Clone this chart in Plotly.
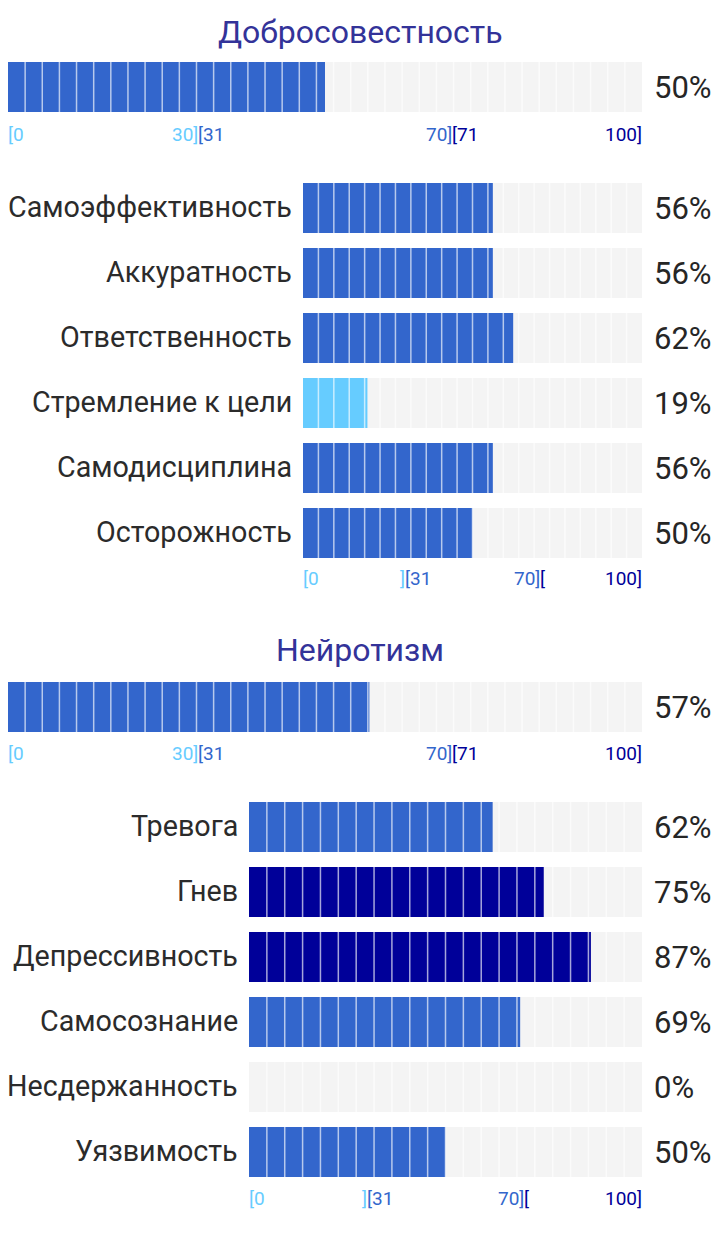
import plotly.graph_objects as go

# a pagina tem margem de 8px no body: tudo deslocado 8px
OFF = 8
W, H = 720 - OFF, 1255 - OFF

# ДАННЫЕ
titulos = ['Добросовестность', 'Нейротизм']
total = [50, 57]
escalas_1 = ['Самоэффективность', 'Аккуратность', 'Ответственность',
             'Стремление к цели', 'Самодисциплина', 'Осторожность']
valores_1 = [56, 56, 62, 19, 56, 50]
escalas_2 = ['Тревога', 'Гнев', 'Депрессивность', 'Самосознание',
             'Несдержанность', 'Уязвимость']
valores_2 = [62, 75, 87, 69, 0, 50]
ticks_total = [(0, '[0', 'left'), (30, '30]', 'right'), (30, '[31', 'left'),
               (70, '70]', 'right'), (70, '[71', 'left'), (100, '100]', 'right')]
ticks_sub = [(0, '[0', 'left'), (30, ']', 'right'), (30, '[31', 'left'),
             (70, '70]', 'right'), (70, '[', 'left'), (100, '100]', 'right')]

COR_BAIXO = '#66ccff'
COR_MEDIO = '#3366cc'
COR_ALTO = '#000099'
COR_FUNDO = '#f4f4f4'
COR_TICK = {'[0': COR_BAIXO, '30]': COR_BAIXO, ']': COR_BAIXO,
            '[31': COR_MEDIO, '70]': COR_MEDIO,
            '[71': COR_ALTO, '[': COR_ALTO, '100]': COR_ALTO}
FONTE = 'Roboto'


def cor(v):
    if v <= 30:
        return COR_BAIXO
    if v <= 70:
        return COR_MEDIO
    return COR_ALTO


def px(xpx):
    return (xpx - OFF) / W


def py(ypx):
    return 1 - (ypx - OFF) / H


fig = go.Figure()
anots = []
layout_axes = {}


def bloco(n, x0, x1, y0, y1, nomes, valores, nseg, ticks, y_tick, x_label=None):
    xa = 'x' if n == 1 else f'x{n}'
    ya = 'y' if n == 1 else f'y{n}'
    k = len(valores)
    w = 50 / 65 if k > 1 else 1.0
    lo = -w / 2
    hi = (k - 1) + w / 2
    ys = list(range(k))
    fig.add_trace(go.Bar(x=[100] * k, y=ys, orientation='h', width=w,
                         marker=dict(color=COR_FUNDO, line_width=0),
                         xaxis=xa, yaxis=ya, hoverinfo='skip', showlegend=False))
    fig.add_trace(go.Bar(x=valores, y=ys, orientation='h', width=w,
                         marker=dict(color=[cor(v) for v in valores], line_width=0),
                         xaxis=xa, yaxis=ya, hoverinfo='skip', showlegend=False))
    # separadores dos segmentos
    sx, sy = [], []
    for i in range(1, nseg):
        p = i * 100 / nseg
        sx += [p, p, None]
        sy += [lo, hi, None]
    fig.add_trace(go.Scatter(x=sx, y=sy, mode='lines',
                             line=dict(color='rgba(255,255,255,0.65)', width=1.5),
                             xaxis=xa, yaxis=ya, hoverinfo='skip', showlegend=False))
    ax_key = 'xaxis' if n == 1 else f'xaxis{n}'
    ay_key = 'yaxis' if n == 1 else f'yaxis{n}'
    layout_axes[ax_key] = dict(domain=[px(x0), px(x1)], range=[0, 100], visible=False,
                               anchor=ya, fixedrange=True)
    layout_axes[ay_key] = dict(domain=[py(y1), py(y0)], range=[hi, lo], visible=False,
                               anchor=xa, fixedrange=True)
    for i, v in enumerate(valores):
        anots.append(dict(x=px(652), xref='paper', y=i, yref=ya, text=f'{v}%',
                          xanchor='left', yanchor='middle', showarrow=False,
                          font=dict(family=FONTE, size=31, color='#262626')))
        if x_label is not None:
            anots.append(dict(x=px(x_label), xref='paper', y=i, yref=ya, text=nomes[i],
                              xanchor='right', yanchor='middle', showarrow=False,
                              yshift=1,
                              font=dict(family=FONTE, size=28.7, color='#2b2b2b')))
    for pos, txt, anc in ticks:
        anots.append(dict(x=pos, xref=xa, y=py(y_tick), yref='paper', text=txt,
                          xanchor=anc, yanchor='middle', showarrow=False,
                          xshift=-2 if anc == 'left' else 2,
                          font=dict(family=FONTE, size=19, color=COR_TICK[txt])))


# Добросовестность
anots.append(dict(x=px(360), xref='paper', y=py(32), yref='paper', text=titulos[0],
                  showarrow=False, yanchor='middle',
                  font=dict(family=FONTE, size=32, color='#333399')))
bloco(1, 8, 642, 62, 112, [titulos[0]], [total[0]], 37, ticks_total, 134)
bloco(2, 303, 642, 183, 558, escalas_1, valores_1, 22, ticks_sub, 578, x_label=294)

# Нейротизм
anots.append(dict(x=px(360), xref='paper', y=py(650), yref='paper', text=titulos[1],
                  showarrow=False, yanchor='middle',
                  font=dict(family=FONTE, size=32, color='#333399')))
bloco(3, 8, 642, 682, 732, [titulos[1]], [total[1]], 37, ticks_total, 753)
bloco(4, 249, 642, 802, 1177, escalas_2, valores_2, 22, ticks_sub, 1198, x_label=240)

fig.update_layout(width=W, height=H, margin=dict(l=0, r=0, t=0, b=0),
                  barmode='overlay', plot_bgcolor='white', paper_bgcolor='white',
                  annotations=anots, **layout_axes)

fig.write_html("out.html")
